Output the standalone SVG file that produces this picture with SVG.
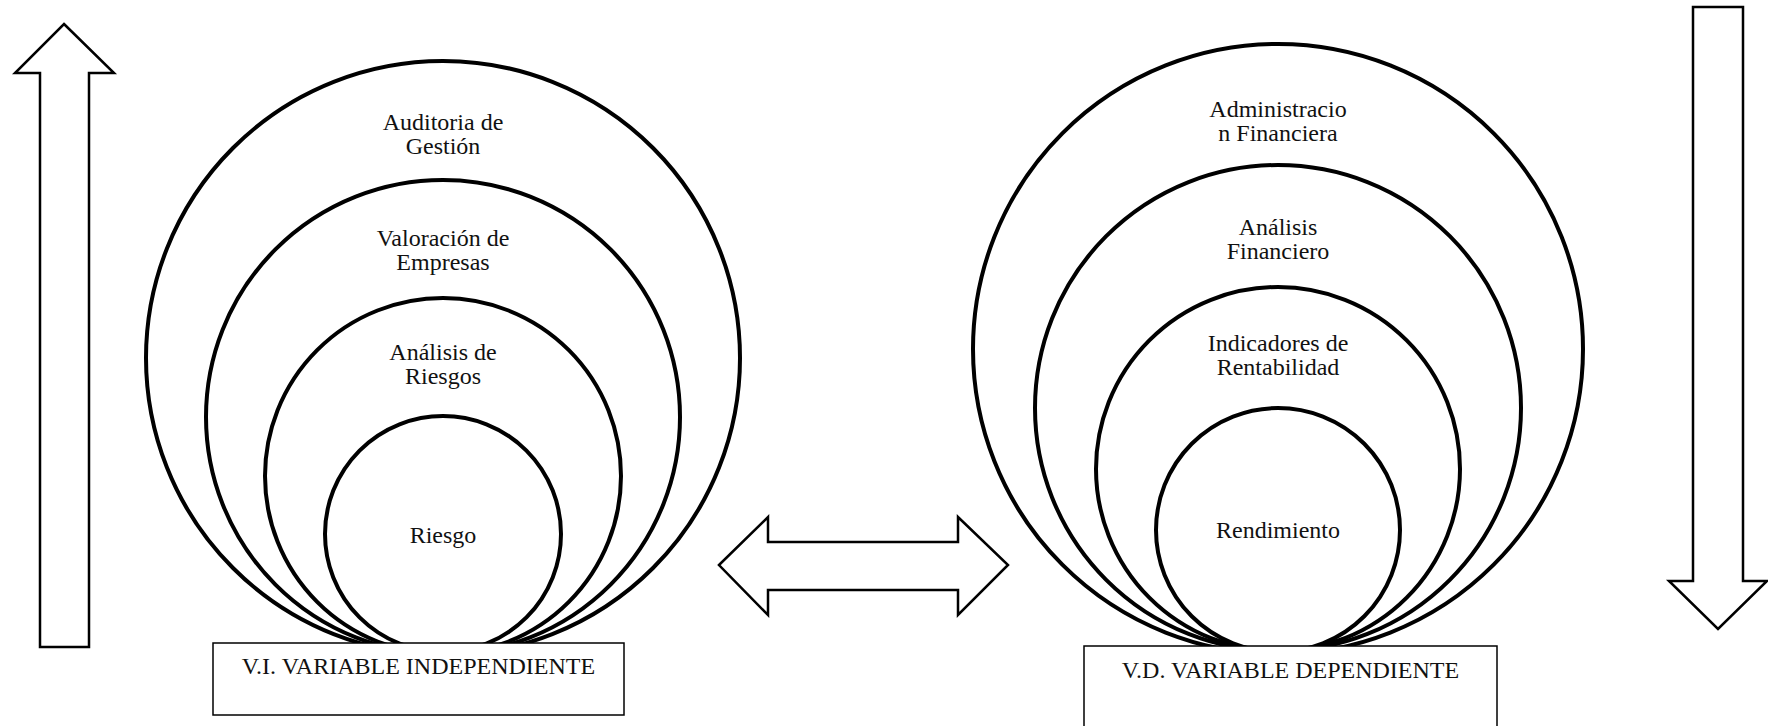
<svg xmlns="http://www.w3.org/2000/svg" width="1768" height="726" viewBox="0 0 1768 726">
  <style>
    .ring { fill: none; stroke: #000; stroke-width: 4; }
    .box { fill: #fff; stroke: #000; stroke-width: 1.5; }
    .block { fill: #fff; stroke: #000; stroke-width: 2.5; stroke-linejoin: miter; }
    .lbl { font-size: 24px; fill: #111; text-anchor: middle; }
  </style>
  <rect width="1768" height="726" fill="#fff"/>

  <g font-family="'Liberation Serif', 'DejaVu Serif', serif">
    <!-- independent variable: nested concepts -->
    <g id="vi-auditoria">
      <circle class="ring" cx="443" cy="358" r="297"/>
      <text class="lbl" x="443" y="130">Auditoria de</text>
      <text class="lbl" x="443" y="154">Gestión</text>
    </g>
    <g id="vi-valoracion">
      <circle class="ring" cx="443" cy="417" r="237"/>
      <text class="lbl" x="443" y="246">Valoración de</text>
      <text class="lbl" x="443" y="270">Empresas</text>
    </g>
    <g id="vi-analisis">
      <circle class="ring" cx="443" cy="476" r="178"/>
      <text class="lbl" x="443" y="360">Análisis de</text>
      <text class="lbl" x="443" y="384">Riesgos</text>
    </g>
    <g id="vi-riesgo">
      <circle class="ring" cx="443" cy="534" r="118"/>
      <text class="lbl" x="443" y="543">Riesgo</text>
    </g>

    <!-- dependent variable: nested concepts -->
    <g id="vd-administracion">
      <circle class="ring" cx="1278" cy="349" r="305"/>
      <text class="lbl" x="1278" y="117">Administracio</text>
      <text class="lbl" x="1278" y="141">n Financiera</text>
    </g>
    <g id="vd-analisis">
      <circle class="ring" cx="1278" cy="408" r="243"/>
      <text class="lbl" x="1278" y="235">Análisis</text>
      <text class="lbl" x="1278" y="259">Financiero</text>
    </g>
    <g id="vd-indicadores">
      <circle class="ring" cx="1278" cy="469" r="182"/>
      <text class="lbl" x="1278" y="351">Indicadores de</text>
      <text class="lbl" x="1278" y="375">Rentabilidad</text>
    </g>
    <g id="vd-rendimiento">
      <circle class="ring" cx="1278" cy="530" r="122"/>
      <text class="lbl" x="1278" y="538">Rendimiento</text>
    </g>

    <!-- variable boxes -->
    <g id="vi-box">
      <rect class="box" x="213" y="643" width="411" height="72"/>
      <text class="lbl" x="418.5" y="674">V.I. VARIABLE INDEPENDIENTE</text>
    </g>
    <g id="vd-box">
      <rect class="box" x="1084" y="646" width="413" height="100"/>
      <text class="lbl" x="1290.5" y="678">V.D. VARIABLE DEPENDIENTE</text>
    </g>
  </g>

  <!-- block arrows -->
  <g id="connectors">
    <polygon class="block" points="64,24 114,73 89,73 89,647 40,647 40,73 15,73"/>
    <polygon class="block" points="1693,7 1743,7 1743,581 1767,581 1718,629 1669,581 1693,581"/>
    <polygon class="block" stroke-width="2" points="719,565 768,517 768,542 958,542 958,517 1008,565 958,615 958,590 768,590 768,615"/>
  </g>
</svg>
